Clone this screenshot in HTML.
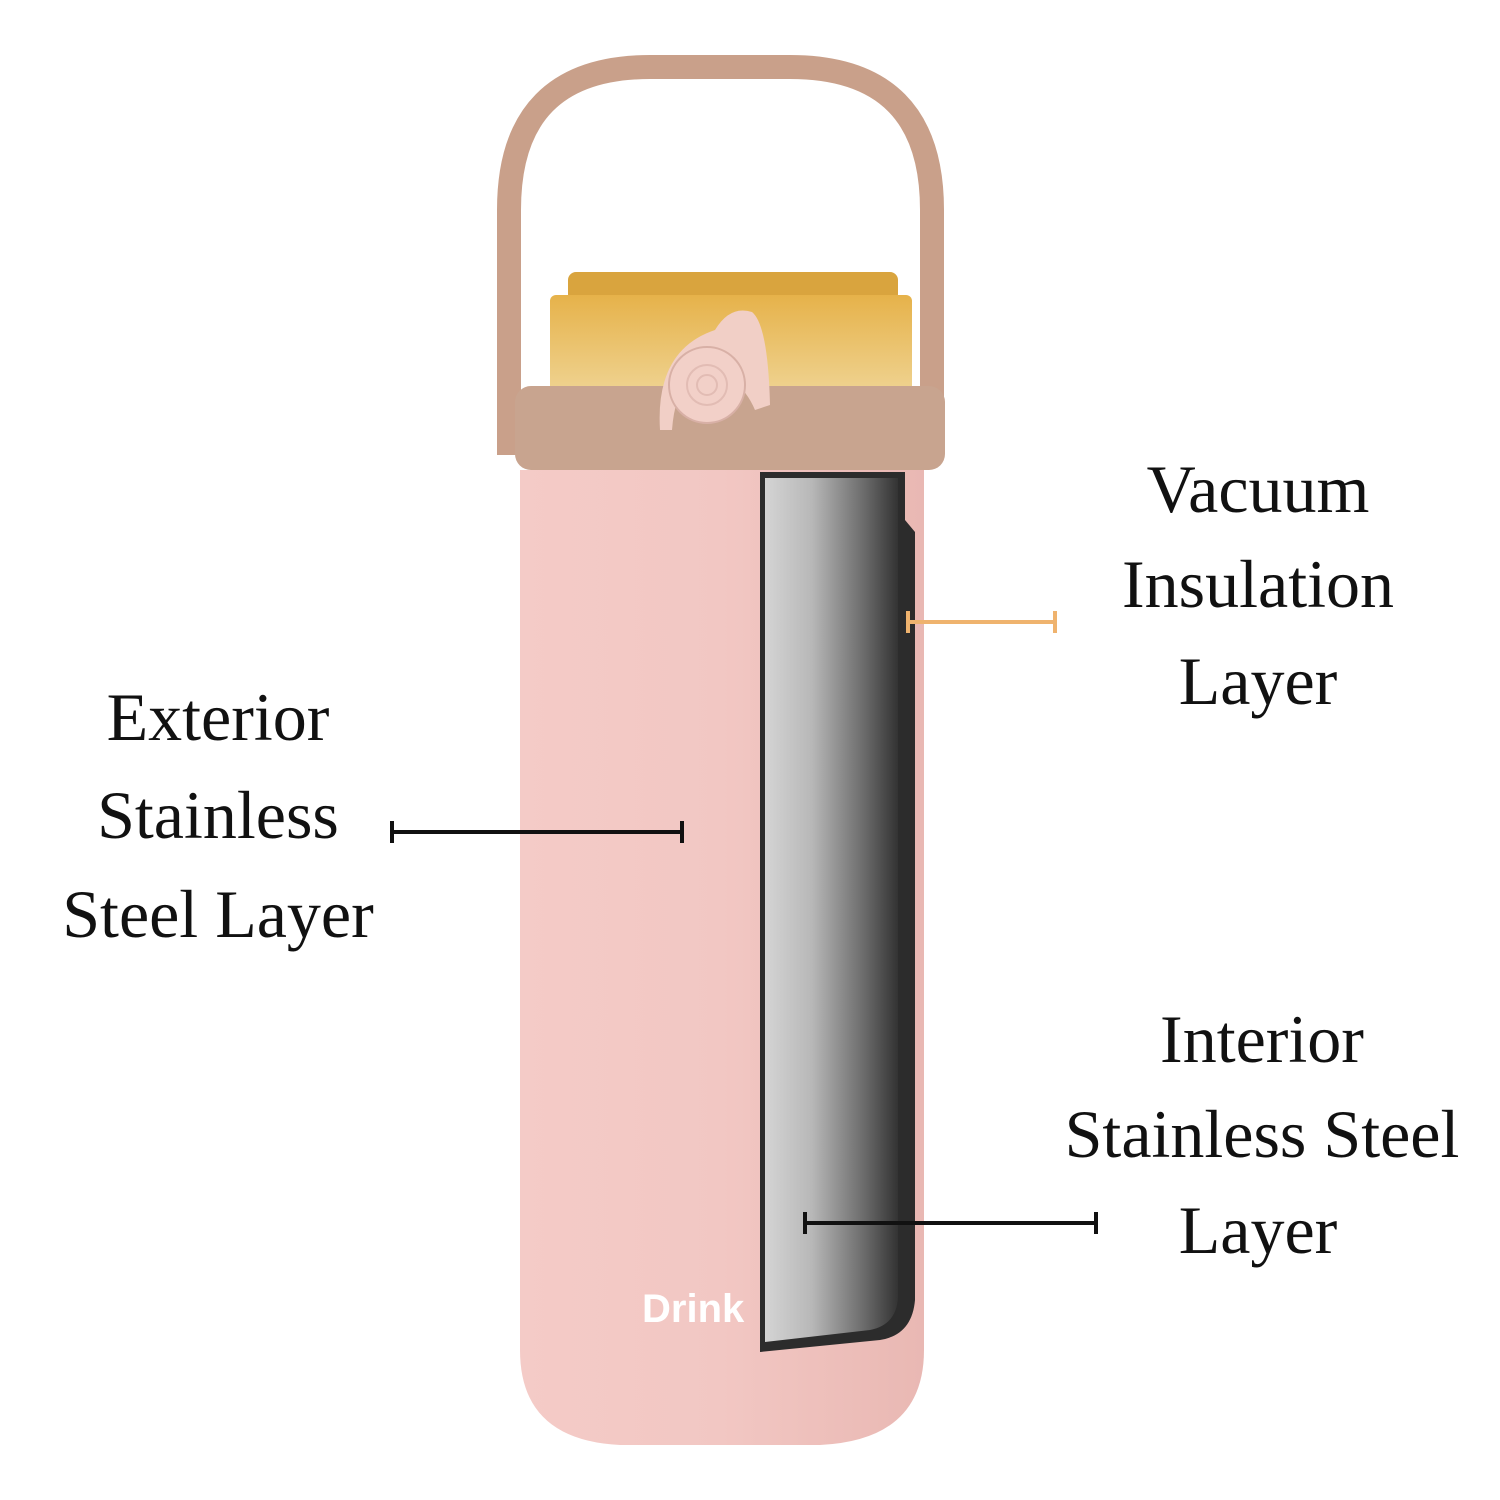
<!DOCTYPE html>
<html><head><meta charset="utf-8"><style>
html,body{margin:0;padding:0;background:#fff;width:1500px;height:1500px;overflow:hidden}
svg{display:block}
</style></head><body>
<svg width="1500" height="1500" viewBox="0 0 1500 1500" xmlns="http://www.w3.org/2000/svg">
<defs>
<linearGradient id="steel" x1="0" x2="1" y1="0" y2="0">
<stop offset="0" stop-color="#d4d4d4"/><stop offset="0.35" stop-color="#b8b8b8"/><stop offset="0.75" stop-color="#6a6a6a"/><stop offset="1" stop-color="#333"/>
</linearGradient>
<linearGradient id="pink" x1="0" x2="1">
<stop offset="0" stop-color="#f4cbc7"/><stop offset="0.5" stop-color="#f2c7c3"/><stop offset="1" stop-color="#e9b8b3"/>
</linearGradient>
<linearGradient id="amber" x1="0" x2="0" y1="0" y2="1">
<stop offset="0" stop-color="#e6b24a"/><stop offset="1" stop-color="#f0d79a"/>
</linearGradient>
</defs>
<rect width="1500" height="1500" fill="#fff"/>
<!-- handle -->
<path d="M509 455 V210 Q509 67 650 67 H790 Q932 67 932 210 V455" fill="none" stroke="#c9a08a" stroke-width="24"/>
<!-- amber lid -->
<rect x="568" y="272" width="330" height="30" rx="8" fill="#d9a43e"/>
<rect x="550" y="295" width="362" height="110" rx="6" fill="url(#amber)"/>
<!-- pink body -->
<path d="M520 470 H924 V1350 Q924 1440 820 1445 H620 Q520 1440 520 1350 Z" fill="url(#pink)"/>
<!-- collar -->
<rect x="515" y="386" width="430" height="84" rx="16" fill="#c8a48f"/>
<!-- button -->
<path d="M660 430 Q655 350 715 330 Q730 305 752 312 Q768 325 770 405 L755 410 Q740 375 707 372 Q676 376 672 430 Z" fill="#f1cfc6"/>
<circle cx="707" cy="385" r="38" fill="#f2d0c8" stroke="#d8b0a6" stroke-width="2"/>
<circle cx="707" cy="385" r="20" fill="none" stroke="#e2bcb4" stroke-width="2"/>
<circle cx="707" cy="385" r="10" fill="none" stroke="#e2bcb4" stroke-width="2"/>
<!-- cutaway -->
<path d="M760 472 H905 V520 L915 532 V1300 Q912 1335 880 1340 L760 1352 Z" fill="#2c2c2c"/>
<path d="M765 478 H898 V1298 Q896 1325 870 1330 L765 1342 Z" fill="url(#steel)"/>
<!-- Drink -->
<text x="642" y="1322" font-family="Liberation Sans, sans-serif" font-weight="bold" font-size="40" fill="#fff">Drink</text>
<!-- connectors -->
<g stroke="#111" stroke-width="4">
<line x1="392" y1="832" x2="682" y2="832"/><line x1="392" y1="821" x2="392" y2="843"/><line x1="682" y1="821" x2="682" y2="843"/>
<line x1="805" y1="1223" x2="1096" y2="1223"/><line x1="805" y1="1212" x2="805" y2="1234"/><line x1="1096" y1="1212" x2="1096" y2="1234"/>
</g>
<g stroke="#efb36e" stroke-width="4">
<line x1="908" y1="622" x2="1055" y2="622"/><line x1="908" y1="611" x2="908" y2="633"/><line x1="1055" y1="611" x2="1055" y2="633"/>
</g>
<!-- labels -->
<g font-family="Liberation Serif, serif" font-size="68" fill="#111" text-anchor="middle">
<text x="1258" y="512">Vacuum</text>
<text x="1258" y="607">Insulation</text>
<text x="1258" y="704">Layer</text>
<text x="218" y="740">Exterior</text>
<text x="218" y="838">Stainless</text>
<text x="218" y="937">Steel Layer</text>
<text x="1262" y="1062">Interior</text>
<text x="1262" y="1157">Stainless Steel</text>
<text x="1258" y="1253">Layer</text>
</g>
</svg>
</body></html>
